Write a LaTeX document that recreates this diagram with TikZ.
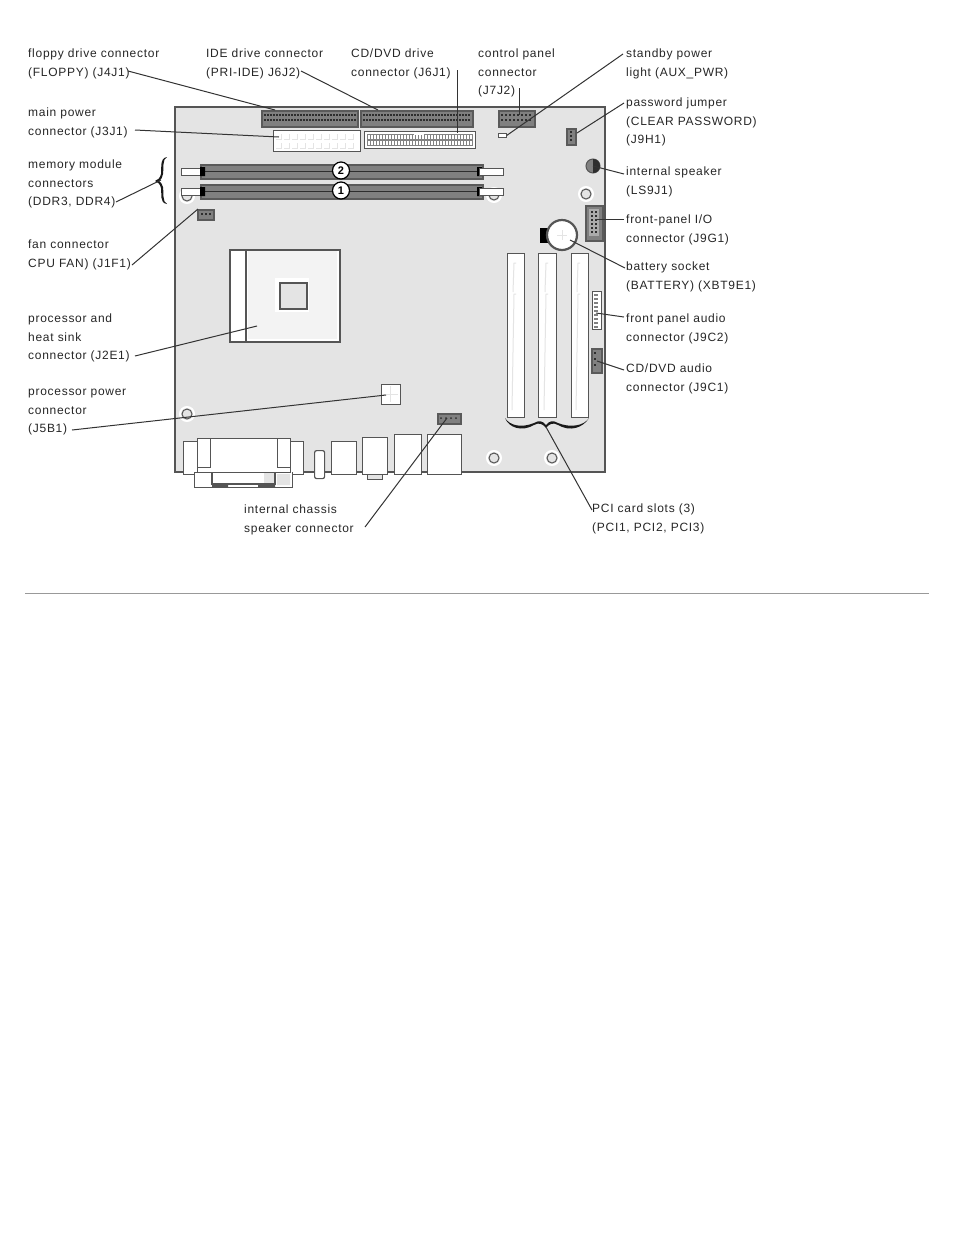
\documentclass[tikz,border=0pt]{standalone}
\usepackage{fontspec}
\setmainfont[LetterSpace=6]{Liberation Sans}
\usetikzlibrary{arrows.meta,positioning}
\definecolor{boardc}{HTML}{E4E4E4}
\definecolor{edgec}{HTML}{555555}
\definecolor{darkc}{HTML}{5A5A5A}
\definecolor{slotc}{HTML}{808080}
\definecolor{pinc}{HTML}{2E2E2E}
\definecolor{cpuc}{HTML}{F3F3F3}
\definecolor{rulec}{HTML}{999999}
\tikzset{
  lbl/.style={font=\fontsize{12}{18.5}\selectfont, align=left, anchor=north west, inner sep=0pt, text=black!85},
  part/.style n args={2}{anchor=north west, inner sep=0pt, minimum width=#1, minimum height=#2},
  wht/.style={draw=edgec, fill=white, line width=1pt},
  drk/.style={draw=darkc, fill=slotc, line width=1.6pt},
  hole/.style={circle, draw=edgec, fill=boardc, line width=1pt, minimum size=10pt, inner sep=0pt},
  ledr/.style={draw=black!80, line width=1pt},
  numc/.style={circle, draw=black, fill=white, line width=1.2pt, minimum size=17pt, inner sep=0pt, font=\fontsize{11}{11}\selectfont\bfseries},
}
\begin{document}
\begin{tikzpicture}[x=1pt,y=-1pt]
\useasboundingbox (0,0) rectangle (954,1235);
\node[part={430}{365}, draw=edgec, fill=boardc, line width=1.5pt] (board) at (174,106) {};
\foreach \hx/\hy in {187/196,494/195,586/194,187/414,494/458,552/458}
  \draw[white, line width=2pt, fill=boardc] (\hx,\hy) circle (7);
\node[hole] (holeA) at (187,196) {};
\node[hole] (holeB) at (494,195) {};
\node[hole] (holeC) at (586,194) {};
\node[hole] (holeD) at (187,414) {};
\node[hole] (holeE) at (494,458) {};
\node[hole] (holeF) at (552,458) {};
% connectors along the top
\node[drk, part={96}{16}] (floppy) at (261,110) {};
\node[drk, part={112}{16}] (ide) at (360,110) {};
\foreach \px in {264,267,...,354} {
  \fill[pinc] (\px,114) rectangle ++(1.6,2);
  \fill[pinc] (\px,119) rectangle ++(1.6,2);
}
\foreach \px in {363,366,...,469} {
  \fill[pinc] (\px,114) rectangle ++(1.6,2);
  \fill[pinc] (\px,119) rectangle ++(1.6,2);
}
\node[wht, part={87}{21}] (power) at (273,130) {};
\foreach \px in {281,289,...,353} {
  \draw[boardc, line width=0.8pt] (\px,134) -- ++(0,5) -- ++(-5,0);
  \draw[boardc, line width=0.8pt] (\px,143) -- ++(0,5) -- ++(-5,0);
}
\node[wht, part={111}{17}] (cddvd) at (364,131) {};
\fill[pinc!60] (367,134) rectangle (473,146);
\foreach \px in {368,371,...,470} {
  \fill[white] (\px,135) rectangle ++(1.8,3.6);
  \fill[white] (\px,141) rectangle ++(1.8,3.6);
}
\fill[white] (414,132) rectangle (424,135);
\node[drk, part={36}{16}] (panel) at (498,110) {};
\foreach \px in {501,505,...,530} {
  \fill[pinc] (\px,114) rectangle ++(2,2);
  \fill[pinc] (\px,119) rectangle ++(2,2);
}
\node[wht, part={8}{4}, line width=0.8pt] (auxled) at (498,133) {};
\node[drk, part={9}{16}] (pwjump) at (566,128) {};
\foreach \py in {131,135,139}
  \fill[pinc] (570,\py) rectangle ++(2,2);
\node[circle, draw=edgec, fill=slotc, line width=1pt, minimum size=14pt, inner sep=0pt] (speaker) at (593,166) {};
\fill[pinc] (593,173) arc (90:-90:7) -- cycle;
% memory slots
\node[wht, part={22}{7}] (latchA) at (181,168) {};
\node[wht, part={22}{7}] (latchB) at (181,188) {};
\node[drk, part={282}{14}] (dimmB) at (200,164) {};
\node[drk, part={282}{14}] (dimmA) at (200,184) {};
\draw[pinc, line width=1pt] (204,171) -- (478,171) (204,191) -- (478,191);
\fill[black] (200,167) rectangle (205,176) (200,187) rectangle (205,196);
\fill[black] (477,167) rectangle (482,176) (477,187) rectangle (482,196);
\node[wht, part={24}{7}] (latchC) at (479,168) {};
\node[wht, part={24}{7}] (latchD) at (479,188) {};
\node[numc] (numB) at (341,170.5) {2};
\node[numc] (numA) at (341,190.5) {1};
\node[drk, part={16}{10}] (cpufan) at (197,209) {};
\foreach \px in {201,205,209}
  \fill[pinc] (\px,213) rectangle ++(2,2);
% processor
\node[part={110}{92}, draw=edgec, fill=white, line width=1.5pt] (cpu) at (229,249) {};
\fill[cpuc] (248,251) rectangle (337,339);
\draw[edgec, line width=1.5pt] (246,249) -- (246,341);
\fill[white] (275,278) rectangle (309,312);
\node[part={27}{26}, draw=edgec, fill=boardc, line width=1.5pt] (cpucore) at (279,282) {};
\node[wht, part={19}{20}] (cpupower) at (381,384) {};
\draw[boardc, line width=1pt] (390,386) -- (390,402) (383,394) -- (398,394);
\node[drk, part={23}{10}] (chassis) at (437,413) {};
\foreach \px in {441,446,451,456}
  \fill[pinc] (\px,418) circle (1);
% back panel
\node[wht, part={120}{33}, line width=1.2pt] (ioport) at (183,441) {};
\node[wht, part={98}{15}, line width=1.2pt] (serial) at (194,472) {};
\fill[white] (212,472) rectangle (292,484);
\fill[boardc] (264,473) rectangle (275,483) (277,474) rectangle (290,485);
\draw[edgec, line width=1.2pt] (212,472) -- (212,484) -- (275,484) -- (275,472);
\fill[edgec] (212,484) rectangle (228,487) (258,484) rectangle (275,487);
\node[wht, part={93}{34}, line width=1.2pt] (video) at (197,438) {};
\node[wht, part={13}{29}, line width=1.2pt] (tabA) at (197,438) {};
\node[wht, part={13}{29}, line width=1.2pt] (tabB) at (277,438) {};
\node[wht, part={10}{28}, rounded corners=2pt, line width=1.2pt] (jack) at (314,450) {};
\node[wht, part={25}{33}, line width=1.2pt] (usbA) at (331,441) {};
\node[wht, part={15}{5}, line width=1pt, fill=boardc] (usbFoot) at (367,474) {};
\node[wht, part={25}{37}, line width=1.2pt] (usbB) at (362,437) {};
\node[wht, part={27}{40}, line width=1.2pt] (usbC) at (394,434) {};
\node[wht, part={34}{40}, line width=1.2pt] (lanport) at (427,434) {};
% card slots
\node[wht, part={17}{164}, line width=1.4pt] (pciA) at (507,253) {};
\node[wht, part={18}{164}, line width=1.4pt] (pciB) at (538,253) {};
\node[wht, part={17}{164}, line width=1.4pt] (pciC) at (571,253) {};
\foreach \sx in {516,548,580} {
  \draw[boardc, line width=1pt] (\sx,263) -- (\sx-2,263) -- (\sx-3,292);
  \draw[boardc, line width=1pt] (\sx,294) -- (\sx-2,294) -- (\sx-4,410);
}
% right hand side
\node[drk, part={17}{35}] (frontio) at (585,205) {};
\fill[pinc!40] (589,209) rectangle (599,236);
\foreach \py in {211,215,...,233} {
  \fill[pinc] (591,\py) rectangle ++(2,2);
  \fill[pinc] (595,\py) rectangle ++(2,2);
}
\fill[black] (540,228) rectangle (550,243);
\node[circle, draw=edgec, fill=white, line width=2.2pt, minimum size=30pt, inner sep=0pt] (battery) at (562,235) {};
\draw[boardc, line width=0.6pt] (557,235) -- (567,235) (562,230) -- (562,240);
\node[wht, part={9}{38}] (audio) at (592,291) {};
\foreach \py in {294,298,...,326}
  \fill[slotc] (594,\py) rectangle ++(4,2);
\node[drk, part={10}{24}] (cdaudio) at (591,348) {};
\foreach \py in {352,358,364}
  \fill[pinc] (594,\py) rectangle ++(2,2);
\fill[black!90] (505,418) .. controls (509,428) and (522,432) .. (534,425) .. controls (539,422) and (543,424) .. (546,428) .. controls (549,424) and (553,422) .. (558,425) .. controls (570,432) and (583,428) .. (589,418) .. controls (584,426) and (570,428) .. (558,423) .. controls (553,420) and (549,421) .. (546,425) .. controls (543,421) and (539,420) .. (534,423) .. controls (522,428) and (510,426) .. (505,418) -- cycle;
\fill[black!90] (167,157) .. controls (159,158) and (162,170) .. (161,174) .. controls (160,178) and (158,180) .. (155,181) .. controls (158,182) and (160,184) .. (161,188) .. controls (162,193) and (159,203) .. (167,204) .. controls (162,202) and (164,192) .. (163,187) .. controls (162,184) and (161,182) .. (159,181) .. controls (161,180) and (162,178) .. (163,174) .. controls (164,169) and (162,159) .. (167,157) -- cycle;
\coordinate (memtip) at (161,180);
\coordinate (pcitip) at (546,427);
% labels
\node[lbl] (lFloppy) at (28,49) {floppy drive connector\\(FLOPPY) (J4J1)};
\node[lbl] (lIde) at (206,49) {IDE drive connector\\(PRI-IDE) J6J2)};
\node[lbl] (lCd) at (351,49) {CD/DVD drive\\connector (J6J1)};
\node[lbl] (lPanel) at (478,49) {control panel\\connector\\(J7J2)};
\node[lbl] (lAux) at (626,49) {standby power\\light (AUX\_PWR)};
\node[lbl] (lPass) at (626,98) {password jumper\\(CLEAR PASSWORD)\\(J9H1)};
\node[lbl] (lMain) at (28,108) {main power\\connector (J3J1)};
\node[lbl] (lMem) at (28,160) {memory module\\connectors\\(DDR3, DDR4)};
\node[lbl] (lFan) at (28,240) {fan connector\\CPU FAN) (J1F1)};
\node[lbl] (lCpu) at (28,314) {processor and\\heat sink\\connector (J2E1)};
\node[lbl] (lCpuPow) at (28,389) {processor power\\connector\\(J5B1)};
\node[lbl] (lChas) at (244,505) {internal chassis\\speaker connector};
\node[lbl] (lPci) at (592,504) {PCI card slots (3)\\(PCI1, PCI2, PCI3)};
\node[lbl] (lSpk) at (626,167) {internal speaker\\(LS9J1)};
\node[lbl] (lIo) at (626,215) {front-panel I/O\\connector (J9G1)};
\node[lbl] (lBat) at (626,262) {battery socket\\(BATTERY) (XBT9E1)};
\node[lbl] (lAud) at (626,314) {front panel audio\\connector (J9C2)};
\node[lbl] (lCdA) at (626,364) {CD/DVD audio\\connector (J9C1)};
% leaders
\draw[ledr] ([shift={(100,22)}]lFloppy.north west) -- ([shift={(14,0)}]floppy.north west);
\draw[ledr] ([shift={(95,22)}]lIde.north west) -- ([shift={(18,0)}]ide.north west);
\draw[ledr] ([shift={(106,21)}]lCd.north west) -- ([shift={(93,2)}]cddvd.north west);
\draw[ledr] ([shift={(41,39)}]lPanel.north west) -- ([shift={(21,5)}]panel.north west);
\draw[ledr] ([shift={(-3,5)}]lAux.north west) -- (auxled.east);
\draw[ledr] ([shift={(-2,5)}]lPass.north west) -- ([shift={(11,5)}]pwjump.north west);
\draw[ledr] ([shift={(107,22)}]lMain.north west) -- ([shift={(6,7)}]power.north west);
\draw[ledr] ([shift={(88,42)}]lMem.north west) -- (memtip);
\draw[ledr] ([shift={(104,25)}]lFan.north west) -- ([shift={(1,0)}]cpufan.north west);
\draw[ledr] ([shift={(107,42)}]lCpu.north west) -- ([shift={(28,77)}]cpu.north west);
\draw[ledr] ([shift={(44,41)}]lCpuPow.north west) -- ([shift={(5,11)}]cpupower.north west);
\draw[ledr] ([shift={(121,22)}]lChas.north west) -- ([shift={(10,5)}]chassis.north west);
\draw[ledr] ([shift={(0,6)}]lPci.north west) -- (pcitip);
\draw[ledr] ([shift={(-2,7)}]lSpk.north west) -- (speaker.center);
\draw[ledr] ([shift={(-2,4)}]lIo.north west) -- ([shift={(10,14)}]frontio.north west);
\draw[ledr] ([shift={(-1,6)}]lBat.north west) -- ([shift={(8,5)}]battery.center);
\draw[ledr] ([shift={(-2,3)}]lAud.north west) -- ([shift={(4,22)}]audio.north west);
\draw[ledr] ([shift={(-2,6)}]lCdA.north west) -- ([shift={(6,13)}]cdaudio.north west);
\node[part={904}{1}, fill=rulec] (rulebar) at (25,593) {};
\end{tikzpicture}
\end{document}
